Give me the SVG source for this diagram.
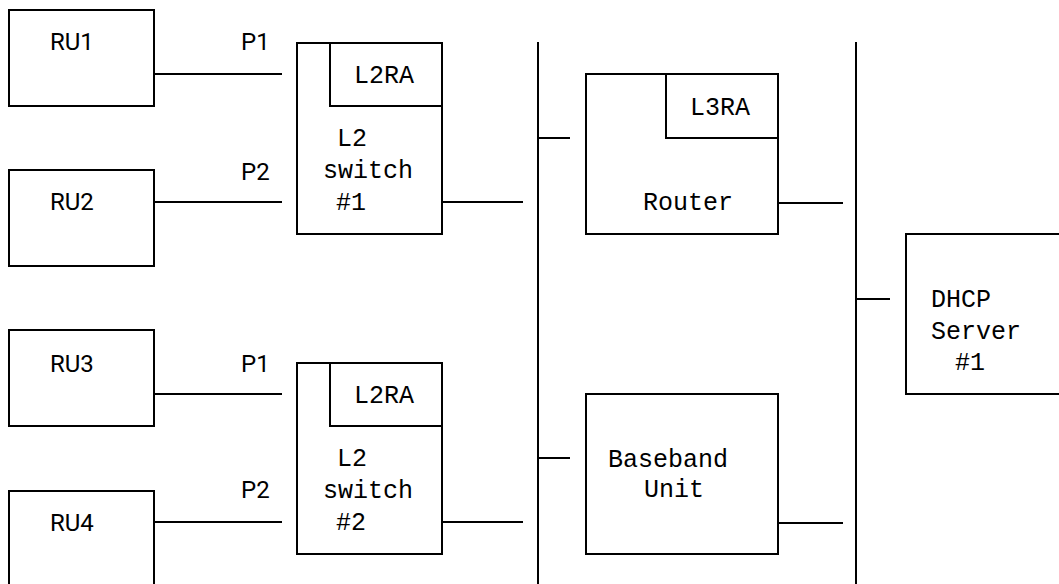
<svg xmlns="http://www.w3.org/2000/svg" width="1059" height="584" viewBox="0 0 1059 584">
<style>
rect{fill:none;stroke:#000;stroke-width:2}
line{stroke:#000;stroke-width:2}
.s{font-family:Roboto,"Liberation Sans",sans-serif;font-size:24px;fill:#000}
.m{font-family:"Liberation Mono","DejaVu Sans Mono",monospace;font-size:25px;fill:#000}
</style>
<rect x="0" y="0" width="1059" height="584" fill="#fff" style="fill:#fff;stroke:none"/>
<g id="connectors">
<line x1="538" y1="42" x2="538" y2="584"/>
<line x1="856" y1="42" x2="856" y2="584"/>
<line x1="154" y1="74" x2="282" y2="74"/>
<line x1="154" y1="202" x2="282" y2="202"/>
<line x1="154" y1="394" x2="282" y2="394"/>
<line x1="154" y1="522" x2="282" y2="522"/>
<line x1="442" y1="202" x2="523" y2="202"/>
<line x1="442" y1="522" x2="523" y2="522"/>
<line x1="538" y1="138" x2="570" y2="138"/>
<line x1="538" y1="458" x2="570" y2="458"/>
<line x1="778" y1="203" x2="843" y2="203"/>
<line x1="778" y1="523" x2="843" y2="523"/>
<line x1="856" y1="299" x2="890" y2="299"/>
<text class="s" x="241" y="50">P1</text>
<text class="s" x="241" y="180">P2</text>
<text class="s" x="241" y="372">P1</text>
<text class="s" x="241" y="498">P2</text>
</g>
<g id="ru1"><rect x="9" y="10" width="145" height="96"/><text class="s" x="50" y="50">RU1</text></g>
<g id="ru2"><rect x="9" y="170" width="145" height="96"/><text class="s" x="50" y="210">RU2</text></g>
<g id="ru3"><rect x="9" y="330" width="145" height="96"/><text class="s" x="50" y="372">RU3</text></g>
<g id="ru4"><rect x="9" y="491" width="145" height="100"/><text class="s" x="50" y="531">RU4</text></g>
<g id="switch1">
<rect x="297" y="43" width="145" height="191"/>
<rect x="330" y="43" width="112" height="63"/>
<text class="m" x="354" y="83">L2RA</text>
<text class="m" x="337" y="146">L2</text>
<text class="m" x="323" y="178">switch</text>
<text class="m" x="336" y="210">#1</text>
</g>
<g id="switch2">
<rect x="297" y="363" width="145" height="191"/>
<rect x="330" y="363" width="112" height="63"/>
<text class="m" x="354" y="403">L2RA</text>
<text class="m" x="337" y="466">L2</text>
<text class="m" x="323" y="498">switch</text>
<text class="m" x="336" y="530">#2</text>
</g>
<g id="router">
<rect x="586" y="74" width="192" height="160"/>
<rect x="666" y="74" width="112" height="64"/>
<text class="m" x="690" y="115">L3RA</text>
<text class="m" x="643" y="210">Router</text>
</g>
<g id="bbu">
<rect x="586" y="394" width="192" height="160"/>
<text class="m" x="608" y="467">Baseband</text>
<text class="m" x="644" y="497">Unit</text>
</g>
<g id="dhcp">
<rect x="906" y="234" width="160" height="160"/>
<text class="m" x="931" y="307">DHCP</text>
<text class="m" x="931" y="339">Server</text>
<text class="m" x="955" y="370">#1</text>
</g>
</svg>
